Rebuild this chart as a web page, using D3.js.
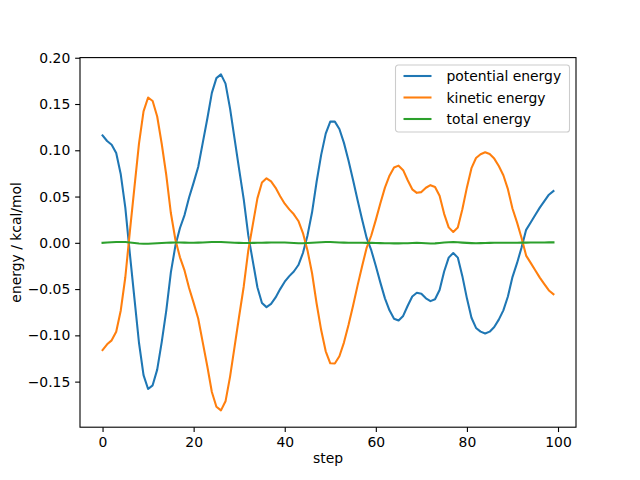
<!DOCTYPE html>
<html>
<head>
<meta charset="utf-8">
<script src="https://cdn.jsdelivr.net/npm/d3@7"></script>
<style>
  body { margin: 0; background: #fff; }
  svg text { font-family: "DejaVu Sans", sans-serif; fill: #000; }
</style>
</head>
<body>
<div id="chart"></div>
<script>
// energies per MD step (kcal/mol)
const steps = d3.range(100);

const potential = [
  0.116, 0.110, 0.106, 0.097, 0.074, 0.038, -0.012, -0.060, -0.108, -0.143,
  -0.158, -0.154, -0.137, -0.107, -0.073, -0.032, -0.003, 0.016, 0.030, 0.049,
  0.065, 0.082, 0.108, 0.134, 0.162, 0.178, 0.182, 0.172, 0.145, 0.112,
  0.079, 0.047, 0.008, -0.020, -0.048, -0.065, -0.0695, -0.066, -0.059, -0.050,
  -0.042, -0.036, -0.031, -0.024, -0.011, 0.008, 0.033, 0.066, 0.095, 0.118,
  0.131, 0.131, 0.123, 0.108, 0.089, 0.068, 0.046, 0.025, 0.005, -0.008,
  -0.025, -0.043, -0.060, -0.073, -0.082, -0.084, -0.079, -0.068, -0.058, -0.054,
  -0.055, -0.060, -0.063, -0.061, -0.051, -0.031, -0.016, -0.011, -0.016, -0.036,
  -0.060, -0.081, -0.092, -0.096, -0.098, -0.096, -0.091, -0.083, -0.073, -0.058,
  -0.037, -0.022, -0.005, 0.014, 0.022, 0.030, 0.038, 0.045, 0.052, 0.056
];

const kinetic = [
  -0.1160, -0.1097, -0.1054, -0.0962, -0.0731, -0.0372, 0.0124, 0.0598, 0.1073, 0.1420,
  0.1570, 0.1532, 0.1365, 0.1068, 0.0730, 0.0322, 0.0033, -0.0157, -0.0298, -0.0489,
  -0.0649, -0.0818, -0.1076, -0.1334, -0.1612, -0.1771, -0.1811, -0.1713, -0.1446, -0.1119,
  -0.0791, -0.0472, -0.0082, 0.0199, 0.0480, 0.0651, 0.0697, 0.0663, 0.0594, 0.0504,
  0.0423, 0.0361, 0.0308, 0.0236, 0.0106, -0.0082, -0.0329, -0.0656, -0.0943, -0.1172,
  -0.1302, -0.1304, -0.1226, -0.1078, -0.0889, -0.0680, -0.0460, -0.0250, -0.0051, 0.0079,
  0.0248, 0.0427, 0.0596, 0.0725, 0.0814, 0.0834, 0.0785, 0.0676, 0.0578, 0.0540,
  0.0548, 0.0595, 0.0623, 0.0604, 0.0508, 0.0313, 0.0167, 0.0118, 0.0166, 0.0362,
  0.0599, 0.0807, 0.0916, 0.0957, 0.0978, 0.0959, 0.0910, 0.0830, 0.0730, 0.0580,
  0.0371, 0.0221, 0.0052, -0.0138, -0.0217, -0.0297, -0.0376, -0.0446, -0.0515, -0.0555
];

const total = [
  0.0000, 0.0003, 0.0006, 0.0008, 0.0009, 0.0008, 0.0004, -0.0002, -0.0007, -0.0010,
  -0.0010, -0.0008, -0.0005, -0.0002, 0.0000, 0.0002, 0.0003, 0.0003, 0.0002, 0.0001,
  0.0001, 0.0002, 0.0004, 0.0006, 0.0008, 0.0009, 0.0009, 0.0007, 0.0004, 0.0001,
  -0.0001, -0.0002, -0.0002, -0.0001, 0.0000, 0.0001, 0.0002, 0.0003, 0.0004, 0.0004,
  0.0003, 0.0001, -0.0002, -0.0004, -0.0004, -0.0002, 0.0001, 0.0004, 0.0007, 0.0008,
  0.0008, 0.0006, 0.0004, 0.0002, 0.0001, 0.0000, 0.0000, 0.0000, -0.0001, -0.0001,
  -0.0002, -0.0003, -0.0004, -0.0005, -0.0006, -0.0006, -0.0005, -0.0004, -0.0002, 0.0000,
  -0.0002, -0.0005, -0.0007, -0.0006, -0.0002, 0.0003, 0.0007, 0.0008, 0.0006, 0.0002,
  -0.0001, -0.0003, -0.0004, -0.0003, -0.0002, -0.0001, 0.0000, 0.0000, 0.0000, 0.0000,
  0.0001, 0.0001, 0.0002, 0.0002, 0.0003, 0.0003, 0.0004, 0.0004, 0.0005, 0.0005
];

const seriesNames = ['potential energy', 'kinetic energy', 'total energy'];
const seriesColors = ['#1f77b4', '#ff7f0e', '#2ca02c'];
const xTicks = [0, 20, 40, 60, 80, 100];
const yTicks = [-0.15, -0.10, -0.05, 0.00, 0.05, 0.10, 0.15, 0.20];

const W = 640, H = 480;
const margin = { left: 80, right: 64, top: 57.6, bottom: 52.8 };
const x0 = margin.left, x1 = W - margin.right;
const y0 = H - margin.bottom, y1 = margin.top;

const svg = d3.select('#chart').append('svg')
  .attr('width', W).attr('height', H);

// matplotlib style 5% margins
const xExt = d3.extent(steps);
const xPad = (xExt[1] - xExt[0]) * 0.05;
const allY = potential.concat(kinetic, total);
const yExt = d3.extent(allY);
const yPad = (yExt[1] - yExt[0]) * 0.05;

const x = d3.scaleLinear().domain([xExt[0] - xPad, xExt[1] + xPad]).range([x0, x1]);
const y = d3.scaleLinear().domain([yExt[0] - yPad, yExt[1] + yPad]).range([y0, y1]);

const fmtY = (d) => d3.format('.2f')(d).replace('-', '\u2212');

const clip = svg.append('clipPath').attr('id', 'clip')
  .append('rect').attr('x', x0).attr('y', y1).attr('width', x1 - x0).attr('height', y0 - y1);

const series = [potential, kinetic, total];
const line = d3.line().x((d, i) => x(steps[i])).y((d) => y(d));

svg.append('g').attr('clip-path', 'url(#clip)')
  .selectAll('path')
  .data(series)
  .enter()
  .append('path')
  .attr('d', (d) => line(d))
  .attr('fill', 'none')
  .attr('stroke', (d, i) => seriesColors[i])
  .attr('stroke-width', 2.08)
  .attr('stroke-linejoin', 'round')
  .attr('stroke-linecap', 'square');

// axes
const xAxis = svg.append('g')
  .attr('transform', `translate(0,${y0})`)
  .call(d3.axisBottom(x).tickValues(xTicks).tickSizeInner(4.86).tickSizeOuter(0).tickPadding(4.86));
const yAxis = svg.append('g')
  .attr('transform', `translate(${x0},0)`)
  .call(d3.axisLeft(y).tickValues(yTicks).tickFormat(fmtY).tickSizeInner(4.86).tickSizeOuter(0).tickPadding(4.86));

[xAxis, yAxis].forEach((ax) => {
  ax.select('.domain').remove();
  ax.selectAll('.tick line').attr('stroke', '#000').attr('stroke-width', 1.1);
  ax.selectAll('.tick text').style('font-size', '13.9px').attr('fill', '#000');
});

// frame
svg.append('rect')
  .attr('x', x0).attr('y', y1).attr('width', x1 - x0).attr('height', y0 - y1)
  .attr('fill', 'none').attr('stroke', '#000').attr('stroke-width', 1.1);

// labels
svg.append('text')
  .attr('x', (x0 + x1) / 2).attr('y', 463)
  .attr('text-anchor', 'middle')
  .style('font-size', '13.9px')
  .text('step');

svg.append('text')
  .attr('transform', `translate(21,${(y0 + y1) / 2}) rotate(-90)`)
  .attr('text-anchor', 'middle')
  .style('font-size', '13.9px')
  .text('energy / kcal/mol');

// legend
const lg = svg.append('g').attr('transform', 'translate(395.5,65)');
lg.append('rect')
  .attr('width', 174).attr('height', 67).attr('rx', 2.8)
  .attr('fill', '#fff').attr('fill-opacity', 0.8)
  .attr('stroke', '#cccccc').attr('stroke-width', 1.1);

seriesNames.forEach((name, i) => {
  const cy = 11 + i * 21.5;
  lg.append('line')
    .attr('x1', 8).attr('x2', 36).attr('y1', cy).attr('y2', cy)
    .attr('stroke', seriesColors[i]).attr('stroke-width', 2.08);
  lg.append('text')
    .attr('x', 51).attr('y', cy + 5)
    .style('font-size', '13.9px')
    .text(name);
});
</script>
</body>
</html>
